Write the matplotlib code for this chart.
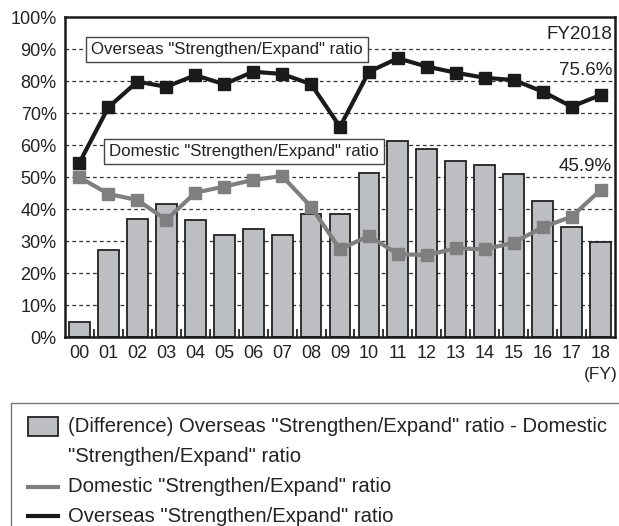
import matplotlib
matplotlib.use("Agg")
import matplotlib.pyplot as plt
from matplotlib.patches import Rectangle
from matplotlib.lines import Line2D
from matplotlib.ticker import FixedLocator

plt.rcParams['font.family'] = ['Liberation Sans', 'DejaVu Sans']

years = ["00", "01", "02", "03", "04", "05", "06", "07", "08", "09",
         "10", "11", "12", "13", "14", "15", "16", "17", "18"]
overseas = [54.5, 71.8, 79.8, 78.2, 81.8, 79.0, 82.9, 82.2, 79.0, 65.7,
            82.9, 87.1, 84.5, 82.6, 81.0, 80.3, 76.7, 72.0, 75.6]
domestic = [49.9, 44.7, 42.8, 36.6, 45.1, 47.0, 49.1, 50.3, 40.7, 27.4,
            31.6, 25.9, 25.6, 27.7, 27.4, 29.5, 34.3, 37.6, 45.9]
difference = [4.6, 27.1, 37.0, 41.6, 36.7, 32.0, 33.8, 31.9, 38.3, 38.3,
              51.3, 61.2, 58.9, 54.9, 53.6, 50.8, 42.4, 34.4, 29.7]
y_ticks = [0, 10, 20, 30, 40, 50, 60, 70, 80, 90, 100]

W, H = 619, 526
fig = plt.figure(figsize=(W / 100, H / 100), dpi=100)
ax = fig.add_axes([65 / W, 1 - 337 / H, (615 - 65) / W, (337 - 17) / H])

x = list(range(len(years)))
bar_color = "#bdbec2"
dom_color = "#7f7f7f"
ink = "#222222"

ax.bar(x, difference, width=0.72, color=bar_color, edgecolor=ink,
       linewidth=1.3, zorder=2)
ax.plot(x, domestic, color=dom_color, linewidth=3, marker="s",
        markersize=8, zorder=3)
ax.plot(x, overseas, color="#1a1a1a", linewidth=3, marker="s",
        markersize=8, zorder=4)

ax.set_xlim(-0.5, len(years) - 0.5)
ax.set_ylim(0, 100)
ax.set_yticks(y_ticks)
ax.set_yticklabels([f"{v}%" for v in y_ticks])
ax.set_xticks(x)
ax.set_xticklabels(years)
ax.xaxis.set_minor_locator(FixedLocator([i + 0.5 for i in x[:-1]]))
ax.tick_params(axis="x", which="major", length=0, labelsize=13,
               pad=6, colors=ink)
ax.tick_params(axis="x", which="minor", direction="in", length=6,
               width=1.3, color=ink)
ax.tick_params(axis="y", length=0, labelsize=13, pad=6, colors=ink)

for v in y_ticks[1:-1]:
    ax.axhline(v, color="#333333", linestyle=(0, (3, 2.5)), linewidth=0.9,
               zorder=1)

for s in ax.spines.values():
    s.set_linewidth(1.8)
    s.set_color("#1a1a1a")

right_x = len(years) - 0.5 - 0.1
ax.text(right_x, 94.4, "FY2018", ha="right", va="center", fontsize=13.5,
        color=ink)
ax.text(right_x, 83.2, f"{overseas[-1]}%", ha="right", va="center",
        fontsize=13.5, color=ink)
ax.text(right_x, 53.2, f"{domestic[-1]}%", ha="right", va="center",
        fontsize=13.5, color=ink)

box = dict(boxstyle="square,pad=0.3", facecolor="white",
           edgecolor="#444444", linewidth=1.0)
ax.text(0.40, 89.9, 'Overseas "Strengthen/Expand" ratio', ha="left",
        va="center", fontsize=12.2, color=ink, bbox=box, zorder=5)
ax.text(1.03, 57.9, 'Domestic "Strengthen/Expand" ratio', ha="left",
        va="center", fontsize=12.2, color=ink, bbox=box, zorder=5)

fig.text(618 / W, 1 - 374 / H, "(FY)", ha="right", va="center",
         fontsize=12.5, color=ink)

# Legend panel below the plot
top = 1 - 403 / H
fig.patches.append(Rectangle((11 / W, -0.02), 0.99, top + 0.02,
                             transform=fig.transFigure, facecolor="white",
                             edgecolor="#777777", linewidth=1.0))
legend_fs = 14.6
fig.patches.append(Rectangle((28 / W, 1 - 436 / H), 30 / W, 19 / H,
                             transform=fig.transFigure, facecolor=bar_color,
                             edgecolor=ink, linewidth=1.3))
fig.text(68 / W, 1 - 427 / H,
         '(Difference) Overseas "Strengthen/Expand" ratio - Domestic',
         ha="left", va="center", fontsize=legend_fs, color=ink)
fig.text(68 / W, 1 - 457 / H, '"Strengthen/Expand" ratio',
         ha="left", va="center", fontsize=legend_fs, color=ink)
fig.lines.append(Line2D([28 / W, 58 / W], [1 - 487 / H] * 2,
                        transform=fig.transFigure, color=dom_color,
                        linewidth=3))
fig.text(68 / W, 1 - 487 / H, 'Domestic "Strengthen/Expand" ratio',
         ha="left", va="center", fontsize=legend_fs, color=ink)
fig.lines.append(Line2D([28 / W, 58 / W], [1 - 516 / H] * 2,
                        transform=fig.transFigure, color="#1a1a1a",
                        linewidth=3))
fig.text(68 / W, 1 - 516 / H, 'Overseas "Strengthen/Expand" ratio',
         ha="left", va="center", fontsize=legend_fs, color=ink)

fig.savefig("out.png", dpi=100)
